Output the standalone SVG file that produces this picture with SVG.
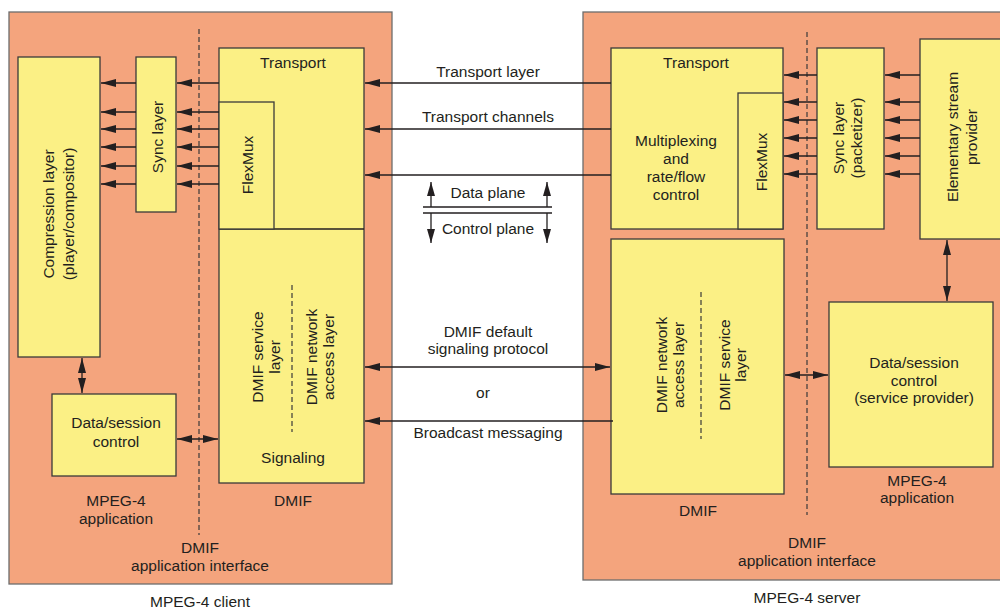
<svg xmlns="http://www.w3.org/2000/svg" width="1000" height="611" viewBox="0 0 1000 611">
<defs>
<marker id="ah" viewBox="0 0 15 8" refX="15" refY="4" markerWidth="15" markerHeight="8" markerUnits="userSpaceOnUse" orient="auto-start-reverse"><path d="M0,0 L15,4 L0,8 z" fill="#231f20"/></marker>
<marker id="ahs" viewBox="0 0 14 8" refX="14" refY="4" markerWidth="14" markerHeight="8" markerUnits="userSpaceOnUse" orient="auto-start-reverse"><path d="M0,0 L14,4 L0,8 z" fill="#231f20"/></marker>
<style>
.outer{fill:#f4a47d;stroke:#6d6d6d;stroke-width:1.3}
.box{fill:#fbf085;stroke:#3a3a3a;stroke-width:1.3}
.dash{stroke:#3a3a3a;stroke-width:1.2;stroke-dasharray:5,3;fill:none}
.ln{stroke:#231f20;stroke-width:1.3;fill:none}
.a{marker-end:url(#ah)}
.aa{marker-start:url(#ah);marker-end:url(#ah)}
.as{marker-end:url(#ahs)}
text{font-family:"Liberation Sans",Arial,sans-serif;font-size:15.5px;fill:#231f20;text-anchor:middle}
</style>
</defs>
<rect width="1000" height="611" fill="#ffffff"/>

<g id="client">
<rect class="outer" x="9" y="12" width="383" height="572"/>
<path class="dash" d="M199,29 V535"/>
<text x="200" y="553">DMIF</text>
<text x="200" y="571">application interface</text>
<text x="200" y="607">MPEG-4 client</text>
<text x="116" y="506">MPEG-4</text>
<text x="116" y="524">application</text>
<text x="293" y="506">DMIF</text>
</g>

<g id="server">
<rect class="outer" x="583" y="12" width="425" height="568"/>
<path class="dash" d="M807,32 V515"/>
<text x="807" y="548">DMIF</text>
<text x="807" y="566">application interface</text>
<text x="807" y="603">MPEG-4 server</text>
<text x="698" y="516">DMIF</text>
<text x="917" y="486">MPEG-4</text>
<text x="917" y="503">application</text>
</g>

<g id="compression">
<rect class="box" x="18" y="57" width="82" height="300"/>
<text transform="translate(54,214) rotate(-90)">Compression layer</text>
<text transform="translate(74,214) rotate(-90)">(player/compositor)</text>
</g>

<g id="sync-client">
<rect class="box" x="136" y="57" width="40" height="155"/>
<text transform="translate(163,137) rotate(-90)">Sync layer</text>
</g>

<g id="dsc-client">
<rect class="box" x="52" y="394" width="124" height="82"/>
<text x="116" y="428">Data/session</text>
<text x="116" y="447">control</text>
</g>

<g id="dmif-client">
<rect class="box" x="219" y="48" width="145" height="435"/>
<path class="ln" d="M219,229 H364"/>
<rect class="box" x="219" y="102" width="55" height="127"/>
<text x="293" y="68">Transport</text>
<text transform="translate(253,165) rotate(-90)">FlexMux</text>
<text transform="translate(263,357) rotate(-90)">DMIF service</text>
<text transform="translate(280,357) rotate(-90)">layer</text>
<path class="dash" d="M292,285 V432"/>
<text transform="translate(317,357) rotate(-90)">DMIF network</text>
<text transform="translate(334,357) rotate(-90)">access layer</text>
<text x="293" y="463">Signaling</text>
</g>

<g id="transport-server">
<rect class="box" x="611" y="48" width="172" height="181"/>
<rect class="box" x="738" y="93" width="45" height="136"/>
<text x="696" y="68">Transport</text>
<text x="676" y="146">Multiplexing</text>
<text x="676" y="164">and</text>
<text x="676" y="182">rate/flow</text>
<text x="676" y="200">control</text>
<text transform="translate(767,162) rotate(-90)">FlexMux</text>
</g>

<g id="sync-server">
<rect class="box" x="817" y="48" width="67" height="181"/>
<text transform="translate(844,138) rotate(-90)">Sync layer</text>
<text transform="translate(862,138) rotate(-90)">(packetizer)</text>
</g>

<g id="esp">
<rect class="box" x="920" y="39" width="90" height="200"/>
<text transform="translate(958,137) rotate(-90)">Elementary stream</text>
<text transform="translate(977,137) rotate(-90)">provider</text>
</g>

<g id="dmif-server">
<rect class="box" x="611" y="239" width="173" height="255"/>
<text transform="translate(667,365) rotate(-90)">DMIF network</text>
<text transform="translate(684,365) rotate(-90)">access layer</text>
<path class="dash" d="M701,292 V439"/>
<text transform="translate(730,365) rotate(-90)">DMIF service</text>
<text transform="translate(746,365) rotate(-90)">layer</text>
</g>

<g id="dsc-server">
<rect class="box" x="829" y="302" width="164" height="165"/>
<text x="914" y="368">Data/session</text>
<text x="914" y="386">control</text>
<text x="914" y="403">(service provider)</text>
</g>

<g id="connectors">
<path class="ln a" d="M219,83 H177"/>
<path class="ln a" d="M219,112 H177"/>
<path class="ln a" d="M219,129 H177"/>
<path class="ln a" d="M219,147 H177"/>
<path class="ln a" d="M219,166 H177"/>
<path class="ln a" d="M219,184 H177"/>
<path class="ln a" d="M136,83 H101"/>
<path class="ln a" d="M136,112 H101"/>
<path class="ln a" d="M136,129 H101"/>
<path class="ln a" d="M136,147 H101"/>
<path class="ln a" d="M136,166 H101"/>
<path class="ln a" d="M136,184 H101"/>
<path class="ln aa" d="M82,358 V393"/>
<path class="ln aa" d="M177,439 H218"/>

<path class="ln a" d="M817,75 H784"/>
<path class="ln a" d="M817,102 H784"/>
<path class="ln a" d="M817,120 H784"/>
<path class="ln a" d="M817,138 H784"/>
<path class="ln a" d="M817,156 H784"/>
<path class="ln a" d="M817,174 H784"/>
<path class="ln a" d="M920,75 H885"/>
<path class="ln a" d="M920,102 H885"/>
<path class="ln a" d="M920,120 H885"/>
<path class="ln a" d="M920,138 H885"/>
<path class="ln a" d="M920,156 H885"/>
<path class="ln a" d="M920,174 H885"/>
<path class="ln aa" d="M947,240 V301"/>
<path class="ln aa" d="M785,375 H828"/>

<path class="ln a" d="M611,83 H365"/>
<path class="ln a" d="M611,129 H365"/>
<path class="ln a" d="M611,175 H365"/>
<path class="ln aa" d="M365,367 H610"/>
<path class="ln a" d="M613,421 H365"/>

<path class="ln" d="M423,207 H552 M423,213 H552"/>
<path class="ln as" d="M431,207 V182"/>
<path class="ln as" d="M547,207 V182"/>
<path class="ln as" d="M431,213 V243"/>
<path class="ln as" d="M547,213 V243"/>
</g>

<g id="labels">
<text x="488" y="77">Transport layer</text>
<text x="488" y="122">Transport channels</text>
<text x="488" y="198">Data plane</text>
<text x="488" y="234">Control plane</text>
<text x="488" y="337">DMIF default</text>
<text x="488" y="354">signaling protocol</text>
<text x="483" y="398">or</text>
<text x="488" y="438">Broadcast messaging</text>
</g>
</svg>
